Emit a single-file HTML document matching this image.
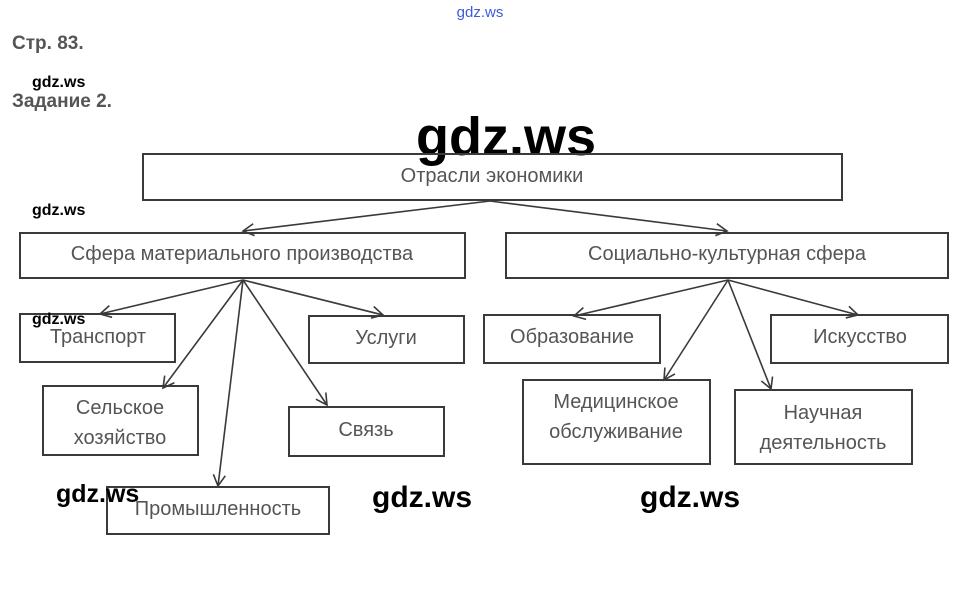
<!DOCTYPE html>
<html><head><meta charset="utf-8"><style>
html,body{margin:0;padding:0;background:#fff;}
svg{display:block;}
.b{fill:none;stroke:#3a3a3a;stroke-width:2;}
.t{font-family:"Liberation Sans",sans-serif;font-size:20px;fill:#555;text-anchor:middle;}
.w{font-family:"Liberation Sans",sans-serif;font-weight:bold;fill:#000;}
.l{stroke:#3a3a3a;stroke-width:1.6;fill:none;}
</style></head><body>
<svg width="960" height="596" viewBox="0 0 960 596" xmlns="http://www.w3.org/2000/svg">
<defs><marker id="a" markerWidth="14" markerHeight="14" refX="12" refY="7" orient="auto" markerUnits="userSpaceOnUse"><path d="M1,1 L12,7 L1,13" fill="none" stroke="#3a3a3a" stroke-width="1.6"/></marker></defs>
<text x="480" y="17" font-family="Liberation Sans,sans-serif" font-size="15" fill="#3b5bdb" text-anchor="middle">gdz.ws</text>
<text x="12" y="49" font-family="Liberation Sans,sans-serif" font-size="19" font-weight="bold" fill="#555">Стр. 83.</text>
<text x="32" y="87" class="w" font-size="16">gdz.ws</text>
<text x="12" y="107" font-family="Liberation Sans,sans-serif" font-size="19" font-weight="bold" fill="#555">Задание 2.</text>
<text x="506" y="155" class="w" font-size="54" text-anchor="middle">gdz.ws</text>

<rect class="b" x="143" y="154" width="699" height="46"/>
<text class="t" x="492" y="182">Отрасли экономики</text>
<text x="32" y="215" class="w" font-size="16">gdz.ws</text>
<rect class="b" x="20" y="233" width="445" height="45"/>
<text class="t" x="242" y="260">Сфера материального производства</text>
<rect class="b" x="506" y="233" width="442" height="45"/>
<text class="t" x="727" y="260">Социально-культурная сфера</text>

<line class="l" x1="490" y1="201" x2="243" y2="231" marker-end="url(#a)"/>
<line class="l" x1="490" y1="201" x2="727" y2="231" marker-end="url(#a)"/>

<rect class="b" x="20" y="314" width="155" height="48"/>
<text class="t" x="98" y="343">Транспорт</text>
<rect class="b" x="309" y="316" width="155" height="47"/>
<text class="t" x="386" y="344">Услуги</text>
<rect class="b" x="43" y="386" width="155" height="69"/>
<text class="t" x="120" y="414">Сельское</text>
<text class="t" x="120" y="444">хозяйство</text>
<rect class="b" x="289" y="407" width="155" height="49"/>
<text class="t" x="366" y="436">Связь</text>
<rect class="b" x="107" y="487" width="222" height="47"/>
<text class="t" x="218" y="515">Промышленность</text>
<text x="32" y="324" class="w" font-size="16">gdz.ws</text>

<line class="l" x1="243" y1="280" x2="100" y2="314" marker-end="url(#a)"/>
<line class="l" x1="243" y1="280" x2="163" y2="388" marker-end="url(#a)"/>
<line class="l" x1="243" y1="280" x2="218" y2="486" marker-end="url(#a)"/>
<line class="l" x1="243" y1="280" x2="327" y2="405" marker-end="url(#a)"/>
<line class="l" x1="243" y1="280" x2="383" y2="315" marker-end="url(#a)"/>

<rect class="b" x="484" y="315" width="176" height="48"/>
<text class="t" x="572" y="343">Образование</text>
<rect class="b" x="771" y="315" width="177" height="48"/>
<text class="t" x="860" y="343">Искусство</text>
<rect class="b" x="523" y="380" width="187" height="84"/>
<text class="t" x="616" y="408">Медицинское</text>
<text class="t" x="616" y="438">обслуживание</text>
<rect class="b" x="735" y="390" width="177" height="74"/>
<text class="t" x="823" y="419">Научная</text>
<text class="t" x="823" y="449">деятельность</text>

<line class="l" x1="728" y1="280" x2="574" y2="316" marker-end="url(#a)"/>
<line class="l" x1="728" y1="280" x2="664" y2="380" marker-end="url(#a)"/>
<line class="l" x1="728" y1="280" x2="771" y2="389" marker-end="url(#a)"/>
<line class="l" x1="728" y1="280" x2="858" y2="315" marker-end="url(#a)"/>

<text x="56" y="502" class="w" font-size="25">gdz.ws</text>
<text x="372" y="507" class="w" font-size="30">gdz.ws</text>
<text x="640" y="507" class="w" font-size="30">gdz.ws</text>
</svg>
</body></html>
